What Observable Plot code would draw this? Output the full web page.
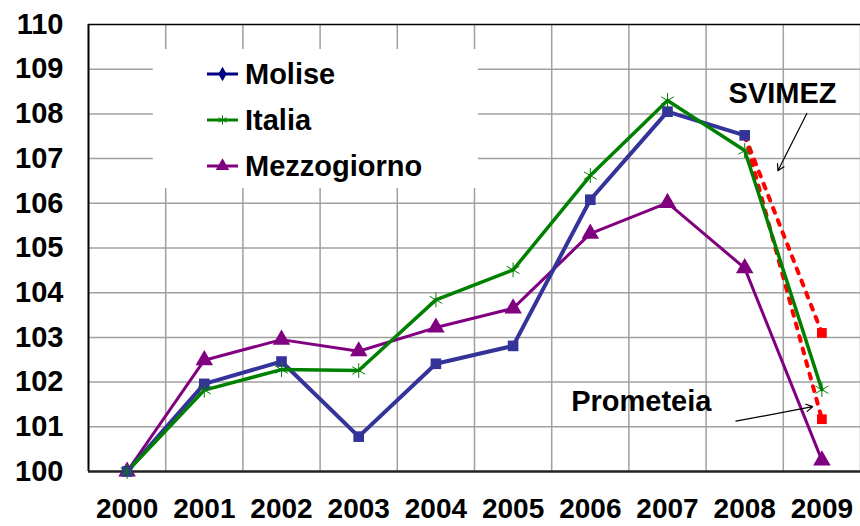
<!DOCTYPE html>
<html>
<head>
<meta charset="utf-8">
<script src="https://cdn.jsdelivr.net/npm/d3@7"></script>
<script src="https://cdn.jsdelivr.net/npm/@observablehq/plot@0.6"></script>
<style>
  html, body { margin: 0; padding: 0; background: #fff; }
  #chart { width: 860px; height: 526px; }
</style>
</head>
<body>
<div id="chart"></div>
<script>
const years = [2000, 2001, 2002, 2003, 2004, 2005, 2006, 2007, 2008, 2009];
const molise = [100, 101.96, 102.46, 100.78, 102.41, 102.81, 106.08, 108.05, 107.52];
const italia = [100, 101.82, 102.28, 102.26, 103.84, 104.51, 106.62, 108.3, 107.18, 101.83];
const mezzogiorno = [100, 102.49, 102.95, 102.69, 103.22, 103.65, 105.32, 106.01, 104.55, 100.25];
const svimez = [{year: 2008, value: 107.52}, {year: 2009, value: 103.1}];
const prometeia = [{year: 2008, value: 107.52}, {year: 2009, value: 101.17}];
const yTicks = [100, 101, 102, 103, 104, 105, 106, 107, 108, 109, 110];
const seriesNames = ["Molise", "Italia", "Mezzogiorno"];

const FONT = "'Liberation Sans', Arial, sans-serif";
const toRows = (arr) => arr.map((v, i) => ({year: years[i], value: v}));
const mol = toRows(molise), ita = toRows(italia), mez = toRows(mezzogiorno);
const forecastEnds = [svimez[1], prometeia[1]];

const chart = Plot.plot({
  width: 860,
  height: 526,
  marginLeft: 88,
  marginRight: 0,
  marginTop: 24,
  marginBottom: 55,
  style: {fontFamily: FONT, background: "white", overflow: "visible"},
  x: {domain: [1999.5, 2009.5], ticks: years, tickFormat: d => String(d)},
  y: {domain: [100, 110], ticks: yTicks},
  marks: [
    // grid
    Plot.ruleY(yTicks.slice(1, -1), {stroke: "#a0a0a0", strokeWidth: 1.5}),
    Plot.ruleX(years.map(y => y + 0.5), {stroke: "#a0a0a0", strokeWidth: 1.5}),
    // legend background
    Plot.rect([0], {x1: 2000.34, x2: 2004.55, y1: 106.33, y2: 109.44, fill: "white"}),
    // frame
    Plot.ruleY([110], {stroke: "#000", strokeWidth: 1.5}),
    Plot.ruleX([1999.5], {stroke: "#000", strokeWidth: 2}),
    Plot.ruleY([100], {stroke: "#222", strokeWidth: 2.5}),
    // forecasts
    Plot.line(svimez, {x: "year", y: "value", stroke: "#ff0000", strokeWidth: 4, strokeDasharray: "5,8"}),
    Plot.line(prometeia, {x: "year", y: "value", stroke: "#ff0000", strokeWidth: 4, strokeDasharray: "5,8"}),
    Plot.dot(forecastEnds, {x: "year", y: "value", symbol: "square", r: 5.5, fill: "#ff0000"}),
    // series
    Plot.line(mez, {x: "year", y: "value", stroke: "#800080", strokeWidth: 3}),
    Plot.line(mol, {x: "year", y: "value", stroke: "#333399", strokeWidth: 4}),
    Plot.line(ita, {x: "year", y: "value", stroke: "#008000", strokeWidth: 3.5}),
    Plot.dot(mez, {x: "year", y: "value", symbol: "triangle", r: 6.5, fill: "#800080"}),
    Plot.dot(mol, {x: "year", y: "value", symbol: "square", r: 6, fill: "#333399"}),
    Plot.dot(ita, {x: "year", y: "value", symbol: "asterisk", r: 7, stroke: "#008000", strokeWidth: 1}),
    // annotations
    Plot.text(["SVIMEZ"], {x: 2008.49, y: 108.46, text: d => d, fontSize: 29, fontWeight: "bold", fill: "#000"}),
    Plot.arrow([0], {x1: 2008.805, y1: 108.01, x2: 2008.43, y2: 106.73, stroke: "#000", strokeWidth: 1.2, headLength: 9, bend: 0}),
    Plot.text(["Prometeia"], {x: 2006.66, y: 101.56, text: d => d, fontSize: 29, fontWeight: "bold", fill: "#000"}),
    Plot.arrow([0], {x1: 2007.886, y1: 101.125, x2: 2008.88, y2: 101.45, stroke: "#000", strokeWidth: 1.2, headLength: 9, bend: 0}),
    // axes
    Plot.axisY({ticks: yTicks, tickSize: 0, tickPadding: 25, fontSize: 29, fontWeight: "bold", fill: "#000", label: null}),
    Plot.axisX({ticks: years, tickSize: 0, tickPadding: 27, fontSize: 28, fontWeight: "bold", fill: "#000", label: null, tickFormat: d => String(d)})
  ]
});

document.getElementById("chart").appendChild(chart);

// legend inside plot area
const svg = d3.select(chart);
const legendColors = ["#000080", "#008000", "#800080"];
const legendSymbols = [d3.symbolDiamond, d3.symbolAsterisk, d3.symbolTriangle];
const lg = svg.append("g").attr("font-family", FONT).attr("text-anchor", "start");
seriesNames.forEach((name, i) => {
  const cy = 74 + i * 46;
  const g = lg.append("g");
  g.append("line").attr("x1", 207).attr("x2", 238).attr("y1", cy).attr("y2", cy)
    .attr("stroke", legendColors[i]).attr("stroke-width", 3);
  const sym = g.append("path")
    .attr("transform", `translate(222.5,${cy})`)
    .attr("d", d3.symbol(legendSymbols[i], i === 2 ? 80 : 60)());
  if (i === 1) sym.attr("fill", "none").attr("stroke", legendColors[i]).attr("stroke-width", 1);
  else sym.attr("fill", legendColors[i]);
  g.append("text").attr("x", 245).attr("y", cy).attr("dy", "0.36em")
    .attr("text-anchor", "start")
    .attr("font-size", 29).attr("font-weight", "bold").attr("fill", "#000").text(name);
});
</script>
</body>
</html>
